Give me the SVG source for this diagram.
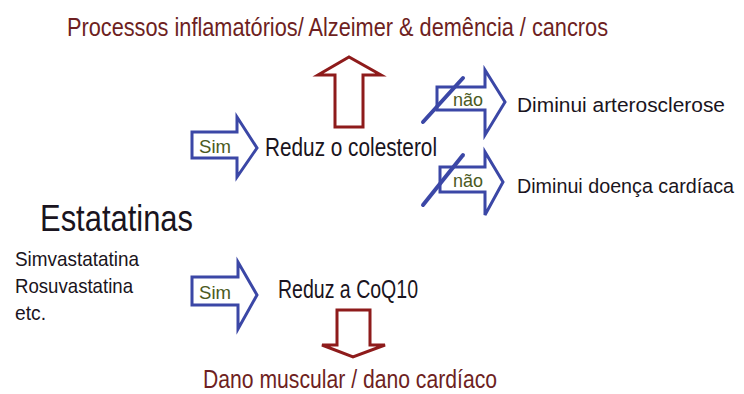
<svg xmlns="http://www.w3.org/2000/svg" width="744" height="394" viewBox="0 0 744 394">
<style>
text{font-family:"Liberation Sans","DejaVu Sans",sans-serif;}
.t{fill:#1a1420;font-size:25px;}
.tr{fill:#1a1420;font-size:20.5px;}
.r{fill:#6e1f22;font-size:26px;}
.lbl{fill:#4b5a22;font-size:19px;}
.ba{fill:#fff;stroke:#3b47a6;stroke-width:3;stroke-linejoin:miter;}
.ra{fill:#fff;stroke:#8e1b1b;stroke-width:3;}
.strike{stroke:#3b47a6;stroke-width:4;stroke-linecap:round;}
</style>
<rect width="744" height="394" fill="#fff"/>
<g id="title">
<text class="r" x="67" y="36" textLength="541" lengthAdjust="spacingAndGlyphs">Processos inflamatórios/ Alzeimer &amp; demência / cancros</text>
</g>
<g id="connectors">
<path class="ra" d="M335,127 L335,75 L318,75 L349,57 L381,75 L363,75 L363,127 Z"/>
<path class="ra" d="M337,310 L370,310 L370,345 L385,345 L353,357 L322,345 L337,345 Z"/>
</g>
<g id="sim1">
<path class="ba" d="M192,132 L237,132 L237,117 L257,148 L237,177 L237,158 L192,158 Z"/>
<text class="lbl" x="199" y="153" textLength="32" lengthAdjust="spacingAndGlyphs">Sim</text>
</g>
<g id="colesterol">
<text class="t" x="265" y="156" textLength="172" lengthAdjust="spacingAndGlyphs">Reduz o colesterol</text>
</g>
<g id="nao1">
<path class="ba" d="M437,87 L485,87 L485,70 L505,102 L485,135 L485,110 L437,110 Z"/>
<text class="lbl" x="453" y="106" textLength="30" lengthAdjust="spacingAndGlyphs">não</text>
<line class="strike" x1="423" y1="122" x2="463" y2="78"/>
</g>
<g id="arterosclerose">
<text class="tr" x="517" y="112" textLength="208" lengthAdjust="spacingAndGlyphs">Diminui arterosclerose</text>
</g>
<g id="nao2">
<path class="ba" d="M440,167 L485,167 L485,152 L503,182 L485,215 L485,192 L440,192 Z"/>
<text class="lbl" x="453" y="187" textLength="30" lengthAdjust="spacingAndGlyphs">não</text>
<line class="strike" x1="423" y1="205" x2="463" y2="155"/>
</g>
<g id="cardiaca">
<text class="tr" x="517" y="193" textLength="217" lengthAdjust="spacingAndGlyphs">Diminui doença cardíaca</text>
</g>
<g id="estatinas">
<text x="40" y="231" style="fill:#1a1420;font-size:37px" textLength="153" lengthAdjust="spacingAndGlyphs">Estatatinas</text>
<text x="15" y="266" style="fill:#1a1420;font-size:21px" textLength="124" lengthAdjust="spacingAndGlyphs">Simvastatatina</text>
<text x="15" y="293" style="fill:#1a1420;font-size:21px" textLength="118" lengthAdjust="spacingAndGlyphs">Rosuvastatina</text>
<text x="15" y="320" style="fill:#1a1420;font-size:21px" textLength="31" lengthAdjust="spacingAndGlyphs">etc.</text>
</g>
<g id="sim2">
<path class="ba" d="M192,277 L238,277 L238,262 L257,295 L238,329 L238,305 L192,305 Z"/>
<text class="lbl" x="199" y="299" textLength="32" lengthAdjust="spacingAndGlyphs">Sim</text>
</g>
<g id="coq10">
<text class="t" x="278" y="298" textLength="140" lengthAdjust="spacingAndGlyphs">Reduz a CoQ10</text>
</g>
<g id="dano">
<text class="r" x="203" y="388" textLength="294" lengthAdjust="spacingAndGlyphs">Dano muscular / dano cardíaco</text>
</g>
</svg>
